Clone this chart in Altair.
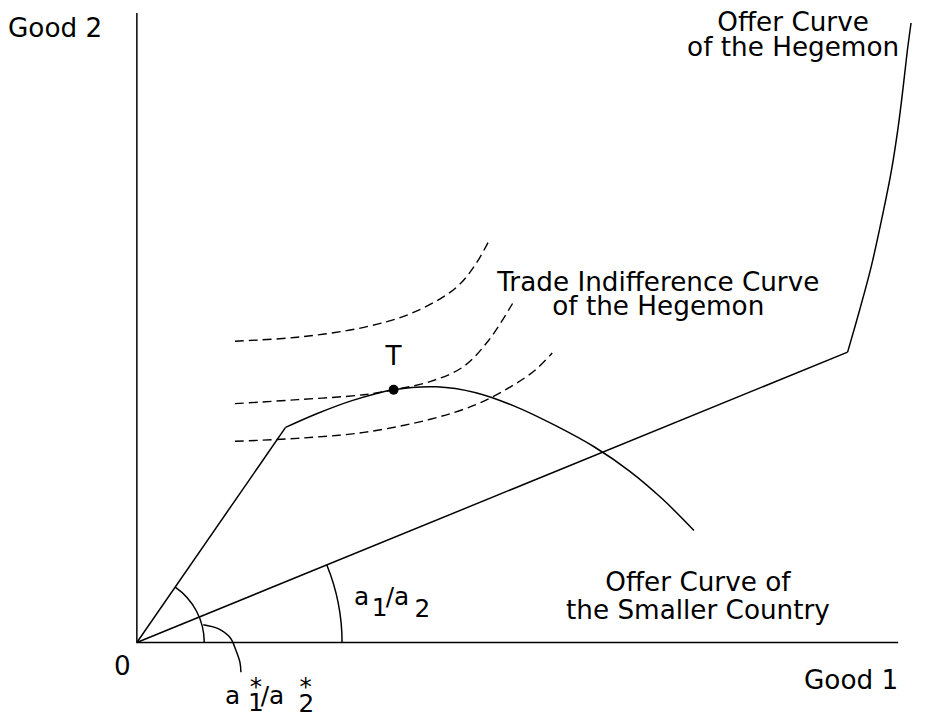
import altair as alt
import pandas as pd
import math

# ---------------- data (units: origin of the diagram at 0,0) ----------------
axis_x = [0, 0, 768]
axis_y = [635, 0, 0]

heg_line_x = [0, 717]
heg_line_y = [0, 293]
heg_curve_x = [717, 729, 741, 752, 761, 768, 773, 777, 781]
heg_curve_y = [293, 335, 380, 430, 475, 520, 560, 595, 625]

small_line_x = [0, 150]
small_line_y = [0, 217]
small_curve_x = [150, 182, 217, 259, 302, 342, 382, 422, 462, 497, 530, 562]
small_curve_y = [217, 231, 244, 255, 258, 252, 238, 219, 197, 173, 145, 113]

tic_top_x = [99, 162, 229, 279, 322, 342, 355]
tic_top_y = [304, 308, 318, 333, 358, 382, 405]
tic_mid_x = [99, 162, 229, 259, 295, 329, 355, 379]
tic_mid_y = [241, 245, 250, 255, 263, 278, 305, 342]
tic_bot_x = [99, 162, 229, 295, 342, 377, 402, 419]
tic_bot_y = [203, 206, 212, 225, 240, 258, 275, 292]

pointer_x = [67, 82, 94, 100, 104, 105]
pointer_y = [18, 14, 5, -8, -20, -30]

point_T = (259, 255)

arc_radius = [207, 68]

FONT = "DejaVu Sans"
FS = 26.5

# ---------------- build tables ----------------
def series(name, xs, ys):
    return pd.DataFrame({"id": name, "x": xs, "y": ys, "i": range(len(xs))})

solid = pd.concat([
    series("axes", axis_x, axis_y),
    series("heg_line", heg_line_x, heg_line_y),
    series("small_line", small_line_x, small_line_y),
], ignore_index=True)

curves = pd.concat([
    series("heg_curve", heg_curve_x, heg_curve_y),
    series("small_curve", small_curve_x, small_curve_y),
    series("pointer", pointer_x, pointer_y),
], ignore_index=True)

dashed = pd.concat([
    series("tic_top", tic_top_x, tic_top_y),
    series("tic_mid", tic_mid_x, tic_mid_y),
    series("tic_bot", tic_bot_x, tic_bot_y),
], ignore_index=True)

ang_heg = math.atan2(heg_line_y[1], heg_line_x[1])
ang_small = math.atan2(small_line_y[1], small_line_x[1])
arcs = pd.DataFrame({
    "x": [0, 0], "y": [0, 0],
    "t1": [math.pi / 2 - ang_heg, math.pi / 2 - ang_small],
    "t2": [math.pi / 2, math.pi / 2],
    "r": arc_radius,
})

xs = alt.Scale(domain=[-130, 787], nice=False, zero=False, padding=0)
ys = alt.Scale(domain=[-72, 637], nice=False, zero=False, padding=0)
X = lambda: alt.X("x:Q", scale=xs, axis=None)
Y = lambda: alt.Y("y:Q", scale=ys, axis=None)

solid_layer = alt.Chart(solid).mark_line(color="black", strokeWidth=1.5).encode(
    x=X(), y=Y(), detail="id:N", order="i:Q")
curve_layer = alt.Chart(curves).mark_line(color="black", strokeWidth=1.5, interpolate="catmull-rom").encode(
    x=X(), y=Y(), detail="id:N", order="i:Q")
dash_layer = alt.Chart(dashed).mark_line(color="black", strokeWidth=1.4, strokeDash=[9, 5],
                                         interpolate="catmull-rom").encode(
    x=X(), y=Y(), detail="id:N", order="i:Q")
arc_layer = alt.Chart(arcs).mark_arc(stroke="black", strokeWidth=1.5, filled=False).encode(
    x=X(), y=Y(),
    theta=alt.Theta("t1:Q", scale=None), theta2="t2:Q",
    radius=alt.Radius("r:Q", scale=None), radius2="r:Q")
pt_layer = alt.Chart(pd.DataFrame({"x": [point_T[0]], "y": [point_T[1]]})).mark_circle(
    color="black", size=100, opacity=1).encode(x=X(), y=Y())

# labels
top_label = pd.DataFrame({"x": [662], "y": [617], "t": ["Offer Curve\nof the Hegemon"]})
tic_label = pd.DataFrame({"x": [526], "y": [355], "t": ["Trade Indifference Curve\nof the Hegemon"]})
small_label = pd.DataFrame({"x": [566], "y": [52], "t": ["Offer Curve of\nthe Smaller Country"]})
t_label = pd.DataFrame({"x": [259], "y": [280], "t": ["T"]})
left_labels = pd.DataFrame({"x": [-130, -23], "y": [611, -33], "t": ["Good 2", "0"]})
right_labels = pd.DataFrame({"x": [768], "y": [-47], "t": ["Good 1"]})
math_labels = pd.DataFrame({
    "x": [219, 237, 251, 280, 89, 112, 125, 163, 114, 164],
    "y": [38, 27, 38, 26, -62, -69, -62, -70, -53, -53],
    "t": ["a", "1", "/a", "2", "a", "1", "/a", "2", "*", "*"],
})

def txt(df, align="center", lh=25, size=FS):
    return alt.Chart(df).mark_text(
        font=FONT, fontSize=size, align=align, baseline="alphabetic", lineBreak="\n",
        lineHeight=lh, color="black").encode(x=X(), y=Y(), text="t:N")

chart = alt.layer(
    solid_layer, curve_layer, dash_layer, arc_layer, pt_layer,
    txt(top_label, lh=25), txt(tic_label, lh=25), txt(small_label, lh=28), txt(t_label),
    txt(left_labels, align="left"), txt(right_labels, align="right"),
    txt(math_labels, align="left", size=25),
).properties(
    width=917, height=709, padding=0,
    autosize=alt.AutoSizeParams(type="none"),
).configure_view(stroke=None)

chart.save("out.html", embed_options={"renderer": "svg", "actions": False})
